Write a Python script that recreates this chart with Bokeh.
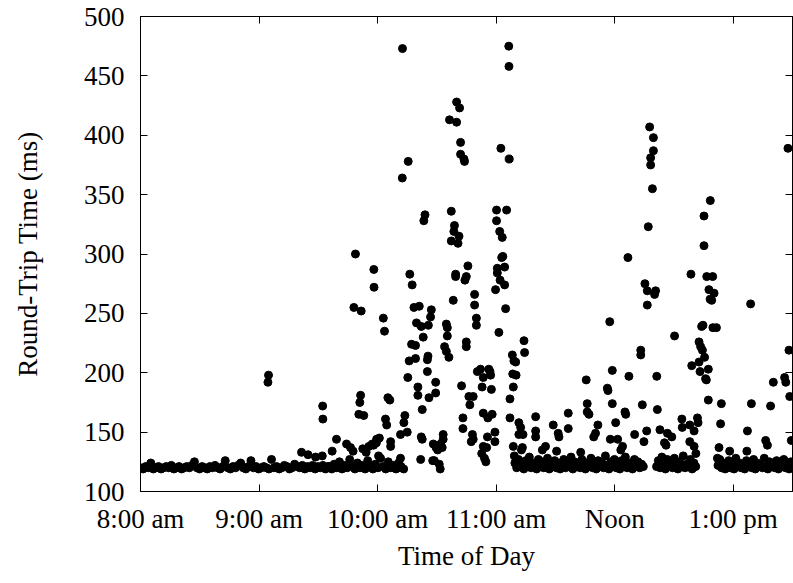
from bokeh.plotting import figure
from bokeh.models import Range1d, FixedTicker, LinearAxis
from bokeh.embed import file_html
from bokeh.resources import INLINE

# Time is in minutes after 8:00 am, round-trip time in milliseconds.
tick_minutes = [0, 60, 120, 180, 240, 300]
tick_labels = ["8:00 am", "9:00 am", "10:00 am", "11:00 am", "Noon", "1:00 pm"]
rtt_ticks = [100, 150, 200, 250, 300, 350, 400, 450, 500]

# quiet morning baseline
morning = [
    (0.0, 120), (1.3, 119), (2.6, 121), (3.9, 120), (5.2, 124), (6.5, 119), (7.8, 120), (9.1, 121),
    (10.4, 119), (11.7, 120), (13.0, 121), (14.3, 120), (15.6, 122), (16.9, 119), (18.2, 120),
    (19.5, 121), (20.8, 119), (22.1, 120), (23.4, 121), (24.7, 120), (26.0, 122), (27.3, 125),
    (28.6, 120), (29.9, 119), (31.2, 121), (32.5, 120), (33.8, 119), (35.1, 121), (36.4, 120),
    (37.7, 122), (39.0, 120), (40.3, 119), (41.6, 121), (42.9, 126), (44.2, 120), (45.5, 119),
    (46.8, 121), (48.1, 120), (49.4, 122), (50.7, 124), (52.0, 120), (53.3, 119), (54.6, 121),
    (55.9, 126), (57.2, 120), (58.5, 121), (59.8, 119), (61.1, 120), (62.4, 121), (63.7, 120),
    (65.0, 119), (66.3, 127), (67.6, 120), (68.9, 121), (70.2, 119), (71.5, 120), (72.8, 122),
    (74.1, 121), (75.4, 119), (76.7, 120), (78.0, 123), (79.3, 121), (80.6, 120), (81.9, 122),
    (83.2, 119), (84.5, 121), (85.8, 120), (87.1, 122), (88.4, 119), (89.7, 121), (91.0, 120),
    (92.3, 122), (93.6, 119), (94.9, 121),
]

# baseline as load starts to build (9:35 - 10:15)
warmup = [
    (95.5, 121), (96.8, 119), (98.0, 123), (99.4, 120), (100.7, 125), (102.0, 119), (103.3, 122),
    (104.6, 120), (105.9, 127), (107.2, 121), (108.5, 119), (109.8, 124), (111.1, 120), (112.4, 122),
    (113.7, 119), (115.0, 126), (116.3, 121), (117.6, 119), (118.9, 123), (120.2, 120), (121.5, 128),
    (122.8, 121), (124.1, 119), (125.4, 125), (126.7, 120), (128.0, 122), (129.3, 119), (130.6, 124),
    (131.9, 121), (133.2, 119),
]

# scattered samples before and during the first burst
burst_one = [
    (64.5, 192), (64.8, 198), (81.5, 133), (84.8, 131), (88.6, 129), (92.0, 130), (92.2, 172),
    (92.3, 161), (97.0, 134), (99.2, 144), (104.3, 140), (106.3, 137), (107.6, 134), (108.8, 300),
    (108.0, 255), (111.7, 252), (111.4, 181), (111.0, 175), (110.5, 165), (113.0, 164), (112.5, 136),
    (114.2, 133), (118.0, 139), (119.4, 141), (120.9, 145), (117.3, 140), (115.6, 138), (118.1, 287),
    (118.2, 272), (122.9, 246), (123.5, 235), (125.2, 179), (126.2, 177), (124.0, 161), (124.6, 156),
    (126.6, 142), (126.6, 138), (119.5, 144), (120.5, 130), (131.6, 128), (130.6, 120),
    (133.8, 164), (133.3, 158), (131.6, 148), (135.0, 150), (132.5, 364), (132.6, 473), (135.5, 378),
    (136.3, 283), (137.5, 274), (136.0, 210), (135.3, 196), (137.2, 224), (139.2, 223), (139.2, 212),
    (138.4, 255), (141.1, 256), (147.2, 253), (139.7, 242), (142.1, 239), (145.7, 240), (146.8, 247),
    (143.1, 230), (145.5, 214), (145.2, 211), (145.2, 201), (140.4, 188), (140.4, 181), (146.0, 179),
    (149.4, 192), (149.4, 183), (142.6, 169), (144.0, 333), (143.4, 328),
    (141.8, 127), (142.1, 146), (142.6, 144), (148.2, 140), (149.6, 137), (150.4, 135), (148.7, 126),
    (147.9, 126), (151.2, 123), (151.7, 119), (153.2, 148), (153.2, 144), (151.9, 140), (152.7, 137),
]

# the tallest burst, around 10:40 - 11:00
burst_two = [
    (154.8, 241), (155.3, 238), (155.3, 231), (153.9, 222), (154.8, 218), (156.1, 213), (158.3, 261),
    (160.0, 428), (161.5, 423), (156.4, 413), (160.0, 411), (162.0, 394), (162.0, 384), (163.7, 380),
    (164.0, 378), (157.3, 336), (158.9, 324), (158.6, 319), (161.2, 315), (157.3, 311), (160.7, 309),
    (159.5, 283), (159.5, 281), (165.7, 290), (164.9, 281), (164.2, 278), (169.1, 266), (169.1, 257),
    (170.0, 246), (170.0, 240), (164.9, 226), (164.9, 222),
    (162.5, 189), (166.2, 180), (168.4, 180), (166.7, 173), (163.2, 162), (163.2, 153), (168.0, 148),
    (168.4, 144), (167.4, 142), (170.5, 201), (172.1, 203), (173.5, 196), (172.9, 188), (176.3, 203),
    (177.2, 198), (176.9, 201), (177.6, 186), (173.5, 166), (175.8, 162), (178.0, 165), (175.6, 146),
    (179.4, 150), (179.4, 142), (173.5, 138), (175.2, 137), (172.7, 132), (174.1, 128), (174.8, 125),
]

# burst just after 11:00
burst_three = [
    (179.7, 270), (184.3, 274), (184.8, 254), (181.4, 234), (182.4, 389), (186.6, 380), (186.4, 475),
    (186.5, 458), (180.2, 337), (185.3, 337), (180.2, 328), (181.8, 319), (183.1, 314), (183.4, 298),
    (182.8, 297), (180.6, 288), (184.3, 289), (180.6, 284), (182.0, 278),
    (188.2, 215), (189.0, 210), (189.9, 209), (188.4, 199), (190.1, 198), (188.7, 188), (187.0, 178),
    (187.0, 162), (194.1, 227), (194.4, 217), (191.5, 158), (192.4, 154), (191.5, 148), (193.6, 148),
    (200.0, 163), (200.0, 151), (200.0, 146), (188.7, 138), (189.2, 130), (193.3, 137), (192.8, 135),
]

# midday spikes
midday_spikes = [
    (205.0, 138), (203.4, 135), (208.9, 156), (211.4, 149), (211.8, 146), (210.6, 134), (216.5, 166),
    (216.5, 153), (222.8, 133), (225.6, 194), (226.1, 174), (226.1, 167), (227.0, 165), (231.5, 156),
    (230.3, 149), (229.4, 146), (236.3, 187), (236.6, 185), (237.5, 243), (238.8, 202), (238.8, 174),
    (240.5, 158), (237.8, 144), (241.5, 144), (244.0, 138), (243.1, 135), (245.2, 167), (245.6, 165),
    (246.7, 297), (247.2, 197), (250.1, 148), (253.2, 219), (253.2, 215), (254.0, 173), (256.2, 151),
    (254.8, 142), (255.3, 275), (256.5, 269), (260.7, 269), (260.2, 266), (256.5, 257), (257.7, 407),
    (259.6, 398), (259.6, 387), (258.2, 381), (258.2, 375), (259.1, 355), (257.0, 323), (261.3, 197),
    (261.6, 169), (262.9, 152), (266.7, 149), (268.9, 146), (265.2, 141), (266.0, 139),
]

# afternoon spikes
afternoon_spikes = [
    (270.3, 231), (274.0, 161), (274.2, 154), (278.0, 156), (280.2, 151), (281.9, 162), (282.2, 158),
    (278.0, 142), (280.2, 138), (281.1, 132), (278.6, 283), (279.0, 206), (282.7, 209), (283.2, 201),
    (287.4, 203), (286.0, 195), (286.4, 194), (282.7, 226), (283.5, 222), (284.4, 219), (285.5, 213),
    (284.7, 240), (284.0, 239), (289.7, 238), (291.5, 238), (286.6, 281), (289.6, 281), (287.7, 270),
    (290.3, 267), (288.3, 262), (289.1, 261), (285.2, 332), (288.4, 345), (285.2, 307), (287.4, 177),
    (294.0, 174), (293.6, 157), (292.8, 137), (292.0, 128), (298.2, 134), (307.2, 151), (306.9, 134),
    (308.8, 258), (309.2, 174), (316.4, 143), (317.3, 139), (318.9, 172), (320.3, 192), (326.0, 196),
    (326.6, 192), (327.7, 389), (328.2, 219), (328.6, 180), (329.4, 143),
]

# busy baseline from late morning into the afternoon
midday_base = [
    (189.5, 124), (190.4, 120), (191.3, 127), (192.2, 121), (193.1, 123), (194.0, 119), (195.0, 126),
    (195.9, 121), (196.8, 129), (197.7, 120), (198.6, 124), (199.5, 122), (200.5, 119), (201.4, 127),
    (202.3, 121), (203.2, 125), (204.1, 120), (205.0, 122), (206.0, 128), (206.9, 119), (207.8, 123),
    (208.7, 121), (209.6, 126), (210.5, 120), (211.5, 124), (212.4, 119), (213.3, 122), (214.2, 127),
    (215.1, 120), (216.0, 123), (217.0, 121), (217.9, 129), (218.8, 119), (219.7, 125), (220.6, 121),
    (221.5, 123), (222.5, 120), (223.4, 127), (224.3, 122), (225.2, 119), (226.1, 124), (227.0, 121),
    (228.0, 128), (228.9, 120), (229.8, 123), (230.7, 119), (231.6, 126), (232.5, 121), (233.5, 124),
    (234.4, 120), (235.3, 130), (236.2, 122), (237.1, 119), (238.0, 125), (239.0, 121), (239.9, 127),
    (240.8, 120), (241.7, 123), (242.6, 119), (243.5, 126), (244.5, 121), (245.4, 129), (246.3, 120),
    (247.2, 124), (248.1, 122), (249.0, 119), (250.0, 127), (250.9, 121), (251.8, 125), (252.7, 120),
    (253.6, 123), (254.5, 121),
]

afternoon_base = [
    (261.2, 121), (262.1, 126), (263.0, 120), (263.9, 129), (264.8, 122), (265.7, 119), (266.6, 127),
    (267.5, 121), (268.4, 124), (269.3, 120), (270.2, 128), (271.1, 122), (272.0, 119), (272.9, 125),
    (273.8, 121), (274.7, 130), (275.6, 120), (276.5, 123), (277.4, 121), (278.3, 127), (279.2, 119),
    (280.1, 124), (281.0, 121),
    (292.3, 122), (293.2, 127), (294.1, 120), (295.0, 124), (295.9, 119), (296.8, 121), (297.7, 126),
    (298.6, 120), (299.5, 123), (300.4, 119), (301.3, 128), (302.2, 121), (303.1, 124), (304.0, 120),
    (304.9, 122), (305.8, 119), (306.7, 126), (307.6, 121), (308.5, 123), (309.4, 120), (310.3, 127),
    (311.2, 119), (312.1, 124), (313.0, 121), (313.9, 122), (314.8, 120), (315.7, 128), (316.6, 121),
    (317.5, 119), (318.4, 125), (319.3, 121), (320.2, 123), (321.1, 120), (322.0, 126), (322.9, 119),
    (323.8, 124), (324.7, 121), (325.6, 127), (326.5, 120), (327.4, 122), (328.3, 119), (329.2, 125),
    (330.0, 121),
]

samples = (morning + warmup + burst_one + burst_two + burst_three + midday_spikes
           + afternoon_spikes + midday_base + afternoon_base)
minutes = [s[0] for s in samples]
rtt = [s[1] for s in samples]

FONT = "Liberation Serif"
FONT_SIZE = "27px"

p = figure(width=793, height=583, output_backend="svg", toolbar_location=None,
           x_range=Range1d(0, 330), y_range=Range1d(100, 500),
           min_border_left=140, min_border_right=1, min_border_top=16, min_border_bottom=92)
p.background_fill_color = "white"
p.border_fill_color = "white"
p.outline_line_color = "black"
p.outline_line_width = 1
p.xgrid.visible = False
p.ygrid.visible = False

p.scatter(minutes, rtt, size=8, marker="circle", color="black")


def style_axis(ax, ticks):
    ax.ticker = FixedTicker(ticks=ticks)
    ax.major_tick_in = 7
    ax.major_tick_out = 0
    ax.minor_tick_line_color = None
    ax.axis_line_color = "black"
    ax.major_tick_line_color = "black"
    ax.major_label_text_font = FONT
    ax.major_label_text_font_size = FONT_SIZE
    ax.major_label_text_color = "black"
    ax.axis_label_text_font = FONT
    ax.axis_label_text_font_size = FONT_SIZE
    ax.axis_label_text_font_style = "normal"
    ax.axis_label_text_color = "black"


xa = p.xaxis[0]
style_axis(xa, tick_minutes)
xa.major_label_overrides = {m: lab for m, lab in zip(tick_minutes, tick_labels)}
xa.major_label_standoff = 12
xa.axis_label = "Time of Day"
xa.axis_label_standoff = 4

ya = p.yaxis[0]
style_axis(ya, rtt_ticks)
ya.major_label_standoff = 16
ya.axis_label = "Round-Trip Time (ms)"
ya.axis_label_standoff = 38


def mirror_axis(ax, ticks):
    # tick marks only, no labels
    style_axis(ax, ticks)
    ax.major_label_text_color = None
    ax.major_label_text_font_size = "0px"
    ax.major_label_standoff = 0


top = LinearAxis()
mirror_axis(top, tick_minutes)
p.add_layout(top, "above")

right = LinearAxis()
mirror_axis(right, rtt_ticks)
p.add_layout(right, "right")

open("out.html", "w").write(file_html(p, INLINE))
